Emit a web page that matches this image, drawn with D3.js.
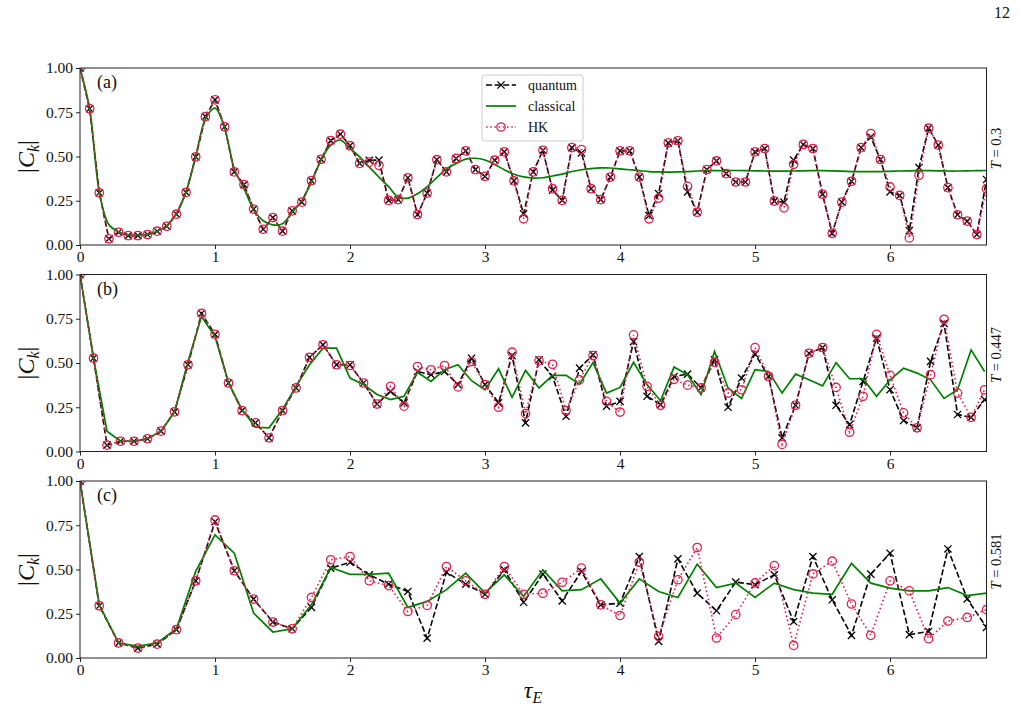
<!DOCTYPE html>
<html>
<head>
<meta charset="utf-8">
<script src="https://cdn.jsdelivr.net/npm/d3@7/dist/d3.min.js"></script>
<style>
  body { margin: 0; background: #fff; }
  svg text { font-family: "Liberation Serif", "DejaVu Serif", serif; fill: #111; }
</style>
</head>
<body>
<svg id="chart" width="1019" height="711"></svg>
<script>
// sampling step of tau_E in each panel
const stepA = 1 / 14;
const stepB = 0.1;
const stepC = 1 / 7;
const xTicks = [0, 1, 2, 3, 4, 5, 6];
const yTicks = [0, 0.25, 0.5, 0.75, 1];
const temps = ["0.3", "0.447", "0.581"];
const panelLabels = ["(a)", "(b)", "(c)"];
const seriesNames = ["quantum", "classical", "HK"];

// panel (a), T = 0.3
const quantumA = [1.0, 0.77, 0.295, 0.035, 0.072, 0.053, 0.053, 0.059, 0.078, 0.106,
  0.174, 0.297, 0.498, 0.725, 0.82, 0.668, 0.413, 0.341, 0.203, 0.089,
  0.155, 0.078, 0.193, 0.242, 0.364, 0.484, 0.59, 0.626, 0.561, 0.461,
  0.478, 0.48, 0.252, 0.256, 0.38, 0.172, 0.293, 0.482, 0.413, 0.489,
  0.532, 0.426, 0.388, 0.479, 0.526, 0.362, 0.176, 0.413, 0.535, 0.31,
  0.252, 0.55, 0.52, 0.318, 0.256, 0.384, 0.532, 0.532, 0.384, 0.166,
  0.29, 0.577, 0.589, 0.30, 0.185, 0.426, 0.475, 0.403, 0.356, 0.356,
  0.526, 0.545, 0.248, 0.242, 0.48, 0.568, 0.545, 0.286, 0.066, 0.242,
  0.36, 0.55, 0.61, 0.483, 0.30, 0.28, 0.081, 0.437, 0.66, 0.564,
  0.324, 0.171, 0.135, 0.059, 0.37];
const classicalA = [1.0, 0.77, 0.30, 0.114, 0.075, 0.057, 0.055, 0.06, 0.078, 0.11,
  0.178, 0.30, 0.50, 0.71, 0.773, 0.66, 0.43, 0.32, 0.20, 0.137,
  0.114, 0.12, 0.185, 0.25, 0.355, 0.48, 0.564, 0.593, 0.545, 0.498,
  0.44, 0.384, 0.33, 0.27, 0.265, 0.29, 0.33, 0.38, 0.43, 0.46,
  0.485, 0.49, 0.48, 0.455, 0.425, 0.40, 0.385, 0.378, 0.38, 0.39,
  0.40, 0.415, 0.425, 0.432, 0.436, 0.435, 0.43, 0.425, 0.42, 0.415,
  0.413, 0.412, 0.413, 0.415, 0.418, 0.42, 0.42, 0.421, 0.421, 0.42,
  0.419, 0.418, 0.417, 0.417, 0.418, 0.419, 0.42, 0.42, 0.419, 0.417,
  0.415, 0.414, 0.414, 0.415, 0.416, 0.418, 0.419, 0.42, 0.42, 0.419,
  0.418, 0.418, 0.419, 0.42, 0.421];
const hkA = [1.0, 0.77, 0.295, 0.035, 0.072, 0.053, 0.053, 0.059, 0.078, 0.106,
  0.174, 0.297, 0.498, 0.725, 0.82, 0.668, 0.413, 0.341, 0.203, 0.089,
  0.155, 0.078, 0.193, 0.242, 0.364, 0.484, 0.59, 0.626, 0.561, 0.461,
  0.468, 0.45, 0.252, 0.256, 0.38, 0.172, 0.293, 0.482, 0.413, 0.489,
  0.532, 0.426, 0.388, 0.479, 0.526, 0.362, 0.148, 0.413, 0.535, 0.318,
  0.252, 0.55, 0.539, 0.318, 0.256, 0.384, 0.532, 0.532, 0.384, 0.148,
  0.265, 0.577, 0.589, 0.331, 0.185, 0.426, 0.475, 0.403, 0.356, 0.356,
  0.526, 0.545, 0.248, 0.21, 0.456, 0.568, 0.545, 0.286, 0.066, 0.242,
  0.36, 0.55, 0.63, 0.483, 0.328, 0.28, 0.04, 0.394, 0.66, 0.564,
  0.324, 0.171, 0.135, 0.059, 0.318];

// panel (b), T = 0.447
const quantumB = [1.0, 0.527, 0.036, 0.058, 0.058, 0.072, 0.115, 0.224, 0.49, 0.78,
  0.662, 0.387, 0.231, 0.162, 0.077, 0.231, 0.359, 0.532, 0.603, 0.49,
  0.49, 0.387, 0.268, 0.34, 0.275, 0.452, 0.434, 0.452, 0.378, 0.527,
  0.378, 0.275, 0.542, 0.162, 0.518, 0.424, 0.199, 0.471, 0.546, 0.256,
  0.283, 0.621, 0.312, 0.265, 0.424, 0.437, 0.36, 0.518, 0.25, 0.415,
  0.55, 0.424, 0.077, 0.261, 0.555, 0.587, 0.261, 0.152, 0.396, 0.64,
  0.349, 0.175, 0.134, 0.509, 0.724, 0.209, 0.193, 0.293];
const classicalB = [1.0, 0.527, 0.115, 0.058, 0.058, 0.072, 0.115, 0.224, 0.509, 0.762,
  0.649, 0.387, 0.237, 0.137, 0.134, 0.237, 0.368, 0.49, 0.584, 0.584,
  0.415, 0.378, 0.322, 0.293, 0.312, 0.448, 0.396, 0.462, 0.49, 0.40,
  0.349, 0.467, 0.306, 0.458, 0.359, 0.43, 0.43, 0.381, 0.502, 0.33,
  0.362, 0.504, 0.378, 0.287, 0.477, 0.434, 0.321, 0.565, 0.359, 0.30,
  0.462, 0.452, 0.33, 0.437, 0.405, 0.371, 0.502, 0.411, 0.411, 0.312,
  0.405, 0.47, 0.443, 0.405, 0.30, 0.349, 0.574, 0.452];
const hkB = [1.0, 0.527, 0.036, 0.058, 0.058, 0.072, 0.115, 0.224, 0.49, 0.78,
  0.662, 0.387, 0.231, 0.162, 0.077, 0.231, 0.359, 0.532, 0.603, 0.49,
  0.486, 0.387, 0.268, 0.368, 0.256, 0.48, 0.462, 0.486, 0.365, 0.508,
  0.378, 0.25, 0.561, 0.214, 0.512, 0.493, 0.231, 0.405, 0.542, 0.283,
  0.223, 0.659, 0.368, 0.261, 0.408, 0.375, 0.359, 0.505, 0.33, 0.349,
  0.587, 0.424, 0.04, 0.261, 0.555, 0.587, 0.362, 0.109, 0.312, 0.662,
  0.43, 0.218, 0.134, 0.434, 0.747, 0.33, 0.193, 0.349];

// panel (c), T = 0.581
const quantumC = [1.0, 0.295, 0.085, 0.056, 0.078, 0.16, 0.436, 0.77, 0.493, 0.333,
  0.203, 0.165, 0.286, 0.508, 0.541, 0.47, 0.417, 0.376, 0.112, 0.485,
  0.417, 0.36, 0.498, 0.315, 0.474, 0.323, 0.489, 0.30, 0.31, 0.573,
  0.094, 0.56, 0.366, 0.267, 0.429, 0.414, 0.47, 0.206, 0.573, 0.329,
  0.128, 0.474, 0.592, 0.132, 0.15, 0.616, 0.334, 0.173];
const classicalC = [1.0, 0.30, 0.085, 0.066, 0.085, 0.165, 0.489, 0.696, 0.592, 0.254,
  0.147, 0.165, 0.30, 0.511, 0.473, 0.473, 0.479, 0.286, 0.32, 0.386,
  0.479, 0.367, 0.47, 0.348, 0.498, 0.379, 0.386, 0.447, 0.31, 0.447,
  0.376, 0.342, 0.53, 0.398, 0.423, 0.342, 0.423, 0.386, 0.367, 0.36,
  0.535, 0.423, 0.395, 0.379, 0.379, 0.398, 0.353, 0.367];
const hkC = [1.0, 0.295, 0.085, 0.056, 0.078, 0.16, 0.436, 0.78, 0.493, 0.333,
  0.203, 0.165, 0.342, 0.555, 0.573, 0.436, 0.409, 0.263, 0.297, 0.517,
  0.436, 0.36, 0.517, 0.36, 0.366, 0.428, 0.508, 0.30, 0.24, 0.541,
  0.122, 0.442, 0.624, 0.113, 0.245, 0.424, 0.522, 0.071, 0.475, 0.547,
  0.305, 0.128, 0.436, 0.379, 0.109, 0.209, 0.229, 0.273];

const panels = [
  { step: stepA, quantum: quantumA, classical: classicalA, hk: hkA, smooth: true },
  { step: stepB, quantum: quantumB, classical: classicalB, hk: hkB, smooth: false },
  { step: stepC, quantum: quantumC, classical: classicalC, hk: hkC, smooth: false }
];

const svg = d3.select("#chart");
const left = 80;
const right = 986.5;
const tops = [68, 274.5, 481];
const panelH = 177;
const qColor = "#000";
const cColor = "#008000";
const hColor = "#e3204d";

const x = d3.scaleLinear().domain([0, 47 / 7]).range([left, right]);

function xMark(sel, size) {
  sel.append("path")
    .attr("d", `M${-size},${-size}L${size},${size}M${-size},${size}L${size},${-size}`)
    .attr("stroke", qColor).attr("stroke-width", 1.3).attr("fill", "none");
}

panels.forEach((p, i) => {
  const top = tops[i];
  const y = d3.scaleLinear().domain([0, 1]).range([top + panelH, top]);
  const g = svg.append("g").attr("class", "panel");

  const clipId = `clip${i}`;
  svg.append("clipPath").attr("id", clipId)
    .append("rect").attr("x", left).attr("y", top)
    .attr("width", right - left).attr("height", panelH);

  const toPts = (arr) => arr.map((v, k) => [k * p.step, v]);
  const line = d3.line().x((d) => x(d[0])).y((d) => y(d[1]));
  const smoothLine = d3.line().x((d) => x(d[0])).y((d) => y(d[1])).curve(d3.curveCatmullRom.alpha(0.5));

  const plot = g.append("g").attr("clip-path", `url(#${clipId})`);

  // quantum
  plot.append("path").datum(toPts(p.quantum))
    .attr("d", line).attr("fill", "none")
    .attr("stroke", qColor).attr("stroke-width", 1.6).attr("stroke-dasharray", "6,2.6");
  plot.append("g").selectAll("g").data(toPts(p.quantum)).join("g")
    .attr("transform", (d) => `translate(${x(d[0])},${y(d[1])})`)
    .call(xMark, 3.6);

  // classical
  plot.append("path").datum(toPts(p.classical))
    .attr("d", p.smooth ? smoothLine : line).attr("fill", "none")
    .attr("stroke", cColor).attr("stroke-width", 1.7);

  // HK
  plot.append("path").datum(toPts(p.hk))
    .attr("d", line).attr("fill", "none")
    .attr("stroke", hColor).attr("stroke-width", 1.6).attr("stroke-dasharray", "1.6,2.6");
  plot.append("g").selectAll("circle").data(toPts(p.hk)).join("circle")
    .attr("cx", (d) => x(d[0])).attr("cy", (d) => y(d[1])).attr("r", 4.2)
    .attr("fill", "none").attr("stroke", hColor).attr("stroke-width", 1.3);

  // frame
  g.append("rect").attr("x", left).attr("y", top)
    .attr("width", right - left).attr("height", panelH)
    .attr("fill", "none").attr("stroke", "#222").attr("stroke-width", 1);

  const yAxis = d3.axisLeft(y).tickValues(yTicks).tickFormat(d3.format(".2f")).tickSize(4).tickPadding(3);
  const xAxis = d3.axisBottom(x).tickValues(xTicks).tickFormat(d3.format("d")).tickSize(4).tickPadding(2);

  const ya = g.append("g").attr("transform", `translate(${left},0)`).call(yAxis);
  const xa = g.append("g").attr("transform", `translate(0,${top + panelH})`).call(xAxis);
  [ya, xa].forEach((a) => {
    a.select(".domain").remove();
    a.selectAll("line").attr("stroke", "#222");
    a.selectAll("text").attr("font-size", 15.5).attr("font-family", "Liberation Serif").attr("fill", "#111");
  });

  // panel letter
  g.append("text").attr("x", 97).attr("y", top + 20)
    .attr("font-size", 18).text(panelLabels[i]);

  // y label |C_k|
  const yl = g.append("text")
    .attr("transform", `translate(34,${top + panelH / 2}) rotate(-90)`)
    .attr("text-anchor", "middle").attr("font-size", 24);
  yl.append("tspan").text("|");
  yl.append("tspan").attr("font-style", "italic").text("C");
  yl.append("tspan").attr("font-style", "italic").attr("font-size", 16).attr("dy", 5).text("k");
  yl.append("tspan").attr("dy", -5).text("|");

  // temperature label
  const tl = g.append("text")
    .attr("transform", `translate(1001,${top + panelH / 2 - 8}) rotate(-90)`)
    .attr("text-anchor", "middle").attr("font-size", 14.5);
  tl.append("tspan").attr("font-style", "italic").text("T");
  tl.append("tspan").text(" = " + temps[i]);
});

// legend in panel (a)
const lg = svg.append("g").attr("transform", "translate(482,75)");
lg.append("rect").attr("width", 101).attr("height", 66).attr("rx", 3)
  .attr("fill", "#fff").attr("fill-opacity", 0.85).attr("stroke", "#ccc").attr("stroke-width", 1);
seriesNames.forEach((name, i) => {
  const ly = 10 + i * 21;
  const row = lg.append("g").attr("transform", `translate(0,${ly})`);
  if (i === 0) {
    row.append("line").attr("x1", 4).attr("x2", 34).attr("stroke", qColor)
      .attr("stroke-width", 1.6).attr("stroke-dasharray", "6,2.6");
    row.append("g").attr("transform", "translate(19,0)").call(xMark, 3.6);
  } else if (i === 1) {
    row.append("line").attr("x1", 4).attr("x2", 34).attr("stroke", cColor).attr("stroke-width", 1.7);
  } else {
    row.append("line").attr("x1", 4).attr("x2", 34).attr("stroke", hColor)
      .attr("stroke-width", 1.6).attr("stroke-dasharray", "1.6,2.6");
    row.append("circle").attr("cx", 19).attr("r", 4.2).attr("fill", "none")
      .attr("stroke", hColor).attr("stroke-width", 1.3);
  }
  row.append("text").attr("x", 46).attr("y", 5).attr("font-size", 14).text(name);
});

// x label
const xl = svg.append("text").attr("x", 533).attr("y", 698)
  .attr("text-anchor", "middle").attr("font-size", 24);
xl.append("tspan").attr("font-style", "italic").text("τ");
xl.append("tspan").attr("font-style", "italic").attr("font-size", 16).attr("dy", 5).text("E");

// page number
svg.append("text").attr("x", 1010).attr("y", 18).attr("text-anchor", "end")
  .attr("font-size", 16).text("12");
</script>
</body>
</html>
